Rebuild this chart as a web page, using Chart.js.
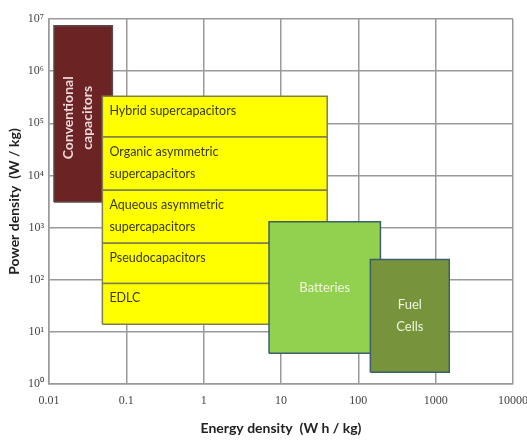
<!DOCTYPE html>
<html>
<head>
<meta charset="utf-8">
<script src="https://cdn.jsdelivr.net/npm/chart.js@4"></script>
<style>
  html, body { margin: 0; padding: 0; background: #fff; }
  #wrap { width: 527px; height: 441px; }
</style>
</head>
<body>
<div id="wrap"><canvas id="ragone" width="527" height="441"></canvas></div>
<script>
// Ragone plot: each device family is a box in energy / power space
const categories = ['Conventional capacitors', 'Hybrid supercapacitors', 'Organic asymmetric supercapacitors',
  'Aqueous asymmetric supercapacitors', 'Pseudocapacitors', 'EDLC', 'Batteries', 'Fuel Cells'];
const labelLines = [['Conventional', 'capacitors'], ['Hybrid supercapacitors'], ['Organic asymmetric', 'supercapacitors'],
  ['Aqueous asymmetric', 'supercapacitors'], ['Pseudocapacitors'], ['EDLC'], ['Batteries'], ['Fuel', 'Cells']];
const energyMin = [0.0116, 0.049, 0.049, 0.049, 0.049, 0.049, 7.0, 143];
const energyMax = [0.066, 39.6, 39.6, 39.6, 39.6, 39.6, 193, 1500];
const powerMin = [3100, 54300, 5200, 500, 85, 14, 3.9, 1.68];
const powerMax = [7.4e6, 3.3e5, 54300, 5200, 500, 85, 1300, 245];

const xTicks = [0.01, 0.1, 1, 10, 100, 1000, 10000];
const xTickLabels = ['0.01', '0.1', '1', '10', '100', '1000', '10000'];
const yTicks = [1, 10, 100, 1000, 10000, 100000, 1000000, 10000000];
const yTickLabels = ['10⁰', '10¹', '10²', '10³', '10⁴', '10⁵', '10⁶', '10⁷'];

const fills = ['#6b2323', '#ffff00', '#ffff00', '#ffff00', '#ffff00', '#ffff00', '#92d050', '#77933c'];
const borders = ['#5a4a4a', '#80804a', '#80804a', '#80804a', '#80804a', '#80804a', '#3b5f6b', '#3b5f6b'];

function boxPoints(i) {
  return [
    { x: energyMin[i], y: powerMin[i] },
    { x: energyMax[i], y: powerMin[i] },
    { x: energyMax[i], y: powerMax[i] },
    { x: energyMin[i], y: powerMax[i] },
    { x: energyMin[i], y: powerMin[i] },
  ];
}

// later boxes sit on top, so give them a lower draw order
const datasets = categories.map((name, i) => ({
  label: name,
  data: boxPoints(i),
  showLine: true,
  fill: 'shape',
  backgroundColor: fills[i],
  borderColor: borders[i],
  borderWidth: 1.5,
  pointRadius: 0,
  tension: 0,
  order: categories.length - i,
}));

const boxLabels = {
  id: 'boxLabels',
  afterDatasetsDraw(chart) {
    const { ctx, scales: { x, y } } = chart;
    ctx.save();
    labelLines.forEach((lines, i) => {
      const left = x.getPixelForValue(energyMin[i]);
      const right = x.getPixelForValue(energyMax[i]);
      const top = y.getPixelForValue(powerMax[i]);
      const bottom = y.getPixelForValue(powerMin[i]);
      const cx = (left + right) / 2;
      const cy = (top + bottom) / 2;
      if (i === 0) {
        ctx.font = 'bold 14px Lato';
        ctx.fillStyle = '#ecd6d6';
        ctx.textAlign = 'center';
        ctx.textBaseline = 'middle';
        ctx.translate(cx - 6, top + 92);
        ctx.rotate(-Math.PI / 2);
        ctx.fillText(lines[0], 0, -9);
        ctx.fillText(lines[1], 0, 10);
        ctx.setTransform(1, 0, 0, 1, 0, 0);
      } else if (i <= 5) {
        ctx.font = '12.5px Lato';
        ctx.fillStyle = '#3a3a1a';
        ctx.textAlign = 'left';
        ctx.textBaseline = 'middle';
        lines.forEach((t, k) => ctx.fillText(t, left + 7, top + 15 + k * 22));
      } else {
        ctx.font = '13px Lato';
        ctx.fillStyle = '#eef6dc';
        ctx.textAlign = 'center';
        ctx.textBaseline = 'middle';
        const off = (lines.length - 1) * 11;
        lines.forEach((t, k) => ctx.fillText(t, cx, cy - off + k * 22));
      }
    });
    ctx.restore();
  },
};

new Chart(document.getElementById('ragone'), {
  type: 'scatter',
  data: { datasets },
  options: {
    responsive: false,
    animation: false,
    layout: { padding: { top: 19, right: 14, left: 2, bottom: 0 } },
    plugins: {
      legend: { display: false },
      tooltip: { enabled: false },
    },
    scales: {
      x: {
        type: 'logarithmic',
        min: 0.01,
        max: 10000,
        afterBuildTicks: (scale) => { scale.ticks = xTicks.map((v) => ({ value: v })); },
        afterFit: (scale) => { scale.height = 57; scale.paddingRight = 0; scale.paddingLeft = 0; },
        ticks: {
          autoSkip: false,
          maxRotation: 0,
          padding: 10,
          color: '#444',
          font: { size: 12, family: 'Liberation Serif' },
          callback: (value) => xTickLabels[xTicks.indexOf(value)],
        },
        grid: { color: '#9a9a9a', lineWidth: 1.5, drawTicks: false },
        border: { color: '#9a9a9a', width: 1.5 },
        title: {
          display: true,
          text: 'Energy density  (W h / kg)',
          color: '#222',
          font: { size: 14, weight: 'bold', family: 'Lato' },
          padding: { top: 14 },
        },
      },
      y: {
        type: 'logarithmic',
        min: 1,
        max: 10000000,
        afterBuildTicks: (scale) => { scale.ticks = yTicks.map((v) => ({ value: v })); },
        afterFit: (scale) => { scale.width = 47; },
        ticks: {
          autoSkip: false,
          padding: 5,
          color: '#444',
          font: { size: 12, family: 'Liberation Serif' },
          callback: (value) => yTickLabels[yTicks.indexOf(value)],
        },
        grid: { color: '#9a9a9a', lineWidth: 1.5, drawTicks: false },
        border: { color: '#9a9a9a', width: 1.5 },
        title: {
          display: true,
          text: 'Power density  (W / kg)',
          color: '#222',
          font: { size: 14, weight: 'bold', family: 'Lato' },
          padding: { bottom: 0 },
        },
      },
    },
  },
  plugins: [boxLabels],
});
</script>
</body>
</html>
